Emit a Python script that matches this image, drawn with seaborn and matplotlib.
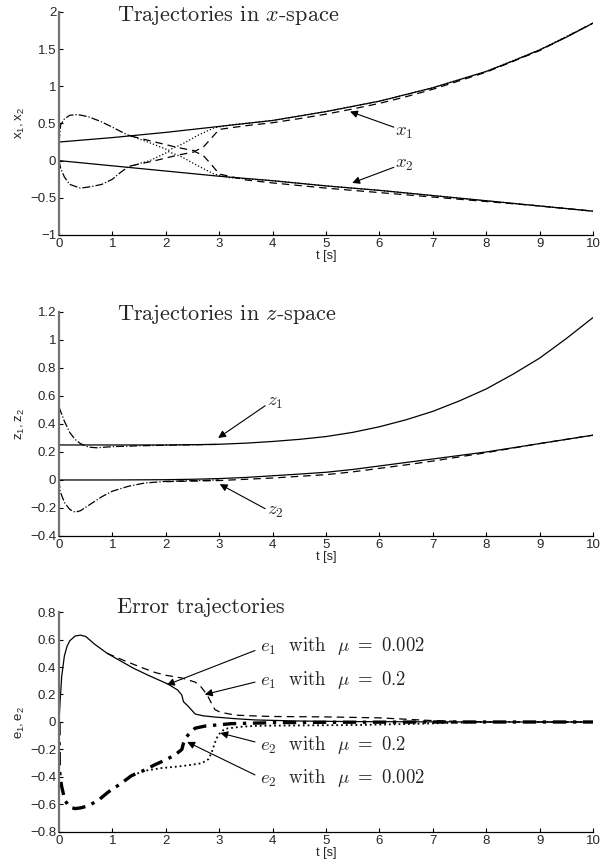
import numpy as np
import pandas as pd
import matplotlib
matplotlib.use("Agg")
import matplotlib.pyplot as plt
import seaborn as sns

# ---------------- data ----------------
# x-space (top)
t_x = [0, 0.5, 1, 1.5, 2, 2.5, 3, 3.5, 4, 4.5, 5, 5.5, 6, 6.5, 7, 7.5, 8, 8.5, 9, 9.5, 10]
x1 = [0.25, 0.28, 0.31, 0.345, 0.38, 0.42, 0.46, 0.50, 0.54, 0.60, 0.66, 0.73, 0.80,
      0.89, 0.98, 1.09, 1.20, 1.34, 1.49, 1.66, 1.85]
x2 = [0.0, -0.035, -0.07, -0.105, -0.14, -0.175, -0.21, -0.24, -0.27, -0.305, -0.34,
      -0.37, -0.40, -0.435, -0.47, -0.505, -0.54, -0.575, -0.61, -0.645, -0.68]

t_x1_init = [0, 0.03, 0.1, 0.2, 0.35, 0.55, 0.77, 1.0, 1.27, 1.35]
x1_init = [0.25, 0.48, 0.56, 0.61, 0.62, 0.59, 0.53, 0.45, 0.35, 0.33]
t_x2_init = [0, 0.03, 0.1, 0.2, 0.4, 0.6, 0.8, 1.0, 1.15, 1.3, 1.35]
x2_init = [0.0, -0.1, -0.22, -0.32, -0.37, -0.35, -0.32, -0.25, -0.16, -0.08, -0.07]

t_xd = [1.35, 1.8, 2.2, 2.55, 2.7, 2.85, 3.0, 3.5, 4, 4.5, 5, 5.5, 6, 6.5, 7, 7.5, 8, 9, 10]
x1_dash = [0.33, 0.25, 0.18, 0.13, 0.18, 0.30, 0.42, 0.47, 0.51, 0.565, 0.625, 0.695,
           0.77, 0.86, 0.96, 1.075, 1.19, 1.48, 1.85]
x2_dash = [-0.07, 0.0, 0.07, 0.12, 0.07, -0.05, -0.18, -0.26, -0.30, -0.335, -0.37,
           -0.40, -0.43, -0.46, -0.49, -0.52, -0.55, -0.61, -0.68]

t_xo = [1.35, 1.7, 2.05, 2.3, 2.6, 2.9, 3.2, 4, 5, 6, 7, 8, 9, 10]
x1_dot = [0.33, 0.24, 0.14, 0.22, 0.34, 0.44, 0.48, 0.54, 0.66, 0.80, 0.98, 1.20, 1.49, 1.85]
x2_dot = [-0.07, 0.0, 0.12, 0.05, -0.07, -0.18, -0.23, -0.27, -0.34, -0.40, -0.47, -0.54, -0.61, -0.68]

# z-space (middle)
t_z = [0, 1, 2, 2.5, 3, 3.5, 4, 4.5, 5, 5.5, 6, 6.5, 7, 7.5, 8, 8.5, 9, 9.5, 10]
z1 = [0.25, 0.25, 0.25, 0.252, 0.255, 0.263, 0.275, 0.29, 0.31, 0.34, 0.38, 0.43,
      0.49, 0.565, 0.65, 0.755, 0.87, 1.01, 1.16]
z2 = [0.0, 0.0, 0.002, 0.005, 0.01, 0.018, 0.03, 0.042, 0.055, 0.075, 0.10, 0.125,
      0.15, 0.175, 0.20, 0.23, 0.26, 0.29, 0.32]

t_z1e = [0, 0.1, 0.2, 0.3, 0.4, 0.55, 0.7, 1.0, 1.5, 2.0, 3.0]
z1_est = [0.52, 0.42, 0.34, 0.29, 0.26, 0.235, 0.23, 0.238, 0.244, 0.248, 0.254]
t_z2e = [0, 0.02, 0.1, 0.2, 0.3, 0.4, 0.6, 0.8, 1.0, 1.3, 1.6, 2.0, 2.5, 3.0]
z2_est = [0.0, -0.08, -0.16, -0.21, -0.23, -0.22, -0.17, -0.12, -0.08, -0.045,
          -0.022, -0.01, -0.005, 0.0]
t_z2d = [2, 3, 4, 4.5, 5, 5.5, 6, 6.5, 7, 8, 9, 10]
z2_dash = [-0.012, -0.004, 0.014, 0.026, 0.038, 0.058, 0.083, 0.108, 0.135, 0.195, 0.26, 0.32]

# error trajectories (bottom)
t_e1a = [0, 0.02, 0.05, 0.1, 0.15, 0.2, 0.3, 0.4, 0.5, 0.67, 0.9, 1.17, 1.4, 1.67,
         2.04, 2.22, 2.3, 2.33, 2.43, 2.55, 2.7, 2.92, 3.3, 3.67, 4.5, 5.5, 7, 10]
e1_mu002 = [0, 0.15, 0.33, 0.48, 0.55, 0.59, 0.625, 0.632, 0.622, 0.565, 0.5, 0.44,
            0.39, 0.34, 0.276, 0.233, 0.196, 0.148, 0.11, 0.058, 0.045, 0.036,
            0.024, 0.015, 0.007, 0.003, 0.001, 0]
t_e1b = [0.9, 1.2, 1.52, 1.8, 2.0, 2.3, 2.55, 2.65, 2.77, 2.85, 2.92, 3.0, 3.1,
         3.3, 3.6, 4, 5, 6, 6.5, 7, 7.5, 8, 10]
e1_mu02 = [0.5, 0.45, 0.40, 0.36, 0.34, 0.32, 0.29, 0.26, 0.20, 0.14, 0.09, 0.075,
           0.065, 0.05, 0.045, 0.04, 0.037, 0.03, 0.02, 0.01, 0.004, 0, 0]
t_e2a = [0, 0.005, 0.02, 0.05, 0.11, 0.2, 0.3, 0.4, 0.55, 0.75, 0.92, 1.15, 1.36,
         1.6, 1.8, 2.0, 2.17, 2.3, 2.33, 2.39, 2.47, 2.55, 2.73, 3.0, 3.23, 4, 5, 7, 10]
e2_mu002 = [0, -0.3, -0.4, -0.47, -0.57, -0.62, -0.63, -0.625, -0.61, -0.565, -0.51,
            -0.45, -0.39, -0.35, -0.31, -0.275, -0.24, -0.2, -0.155, -0.107, -0.07,
            -0.045, -0.03, -0.02, -0.012, -0.005, -0.002, 0, 0]
t_e2b = [1.3, 1.6, 1.92, 2.2, 2.42, 2.67, 2.8, 2.86, 2.92, 2.98, 3.1, 3.4, 3.67,
         4.5, 5.5, 6.5, 7, 7.5, 8, 10]
e2_mu02 = [-0.4, -0.355, -0.335, -0.325, -0.315, -0.3, -0.27, -0.22, -0.15, -0.095,
           -0.05, -0.035, -0.028, -0.025, -0.022, -0.015, -0.01, -0.005, 0, 0]

x_ticks = [0, 1, 2, 3, 4, 5, 6, 7, 8, 9, 10]
y_ticks_top = [-1, -0.5, 0, 0.5, 1, 1.5, 2]
y_ticks_mid = [-0.4, -0.2, 0, 0.2, 0.4, 0.6, 0.8, 1, 1.2]
y_ticks_bot = [-0.8, -0.6, -0.4, -0.2, 0, 0.2, 0.4, 0.6, 0.8]

# ---------------- style ----------------
sns.set_style("ticks")
plt.rcParams["font.family"] = ["Liberation Sans", "DejaVu Sans"]
plt.rcParams["mathtext.fontset"] = "cm"
plt.rcParams["xtick.direction"] = "in"
plt.rcParams["ytick.direction"] = "in"
plt.rcParams["xtick.major.size"] = 3
plt.rcParams["ytick.major.size"] = 3
plt.rcParams["xtick.labelsize"] = 9.5
plt.rcParams["ytick.labelsize"] = 9.5

fig = plt.figure(figsize=(6.01, 8.67), dpi=100)
ax1 = fig.add_axes([0.0982, 0.729, 0.8885, 0.2572])
ax2 = fig.add_axes([0.0982, 0.3818, 0.8885, 0.2584])
ax3 = fig.add_axes([0.0982, 0.0404, 0.8885, 0.2537])


def line(ax, t, y, ls="-", lw=0.9):
    df = pd.DataFrame({"t": t, "y": y})
    sns.lineplot(data=df, x="t", y="y", ax=ax, color="k", linestyle=ls,
                 linewidth=lw, estimator=None, sort=False)


def arrow(ax, tail, tip):
    ax.annotate("", xy=tip, xytext=tail,
                arrowprops=dict(arrowstyle="-|>", color="k", lw=0.8,
                                mutation_scale=11, shrinkA=0, shrinkB=0))


ttl_kw = dict(fontsize=16, ha="left", va="center", clip_on=False, family="cmr10")
ann_kw = dict(fontsize=13.5, ha="left", va="center", family="cmr10")

# top
line(ax1, t_x, x1)
line(ax1, t_x, x2)
line(ax1, t_x1_init, x1_init, ls="-.")
line(ax1, t_x2_init, x2_init, ls="-.")
line(ax1, t_xd, x1_dash, ls=(0, (6, 4)))
line(ax1, t_xd, x2_dash, ls=(0, (6, 4)))
line(ax1, t_xo, x1_dot, ls=":")
line(ax1, t_xo, x2_dot, ls=":")
ax1.text(1.09, 1.95, "Trajectories in $x$-space", **ttl_kw)
ax1.text(6.3, 0.39, r"$x_1$", **ann_kw)
ax1.text(6.3, -0.05, r"$x_2$", **ann_kw)
arrow(ax1, (6.27, 0.45), (5.45, 0.66))
arrow(ax1, (6.27, -0.09), (5.49, -0.30))
ax1.set_ylim(-1, 2)
ax1.set_yticks(y_ticks_top)
ax1.set_yticklabels(["\u22121", "\u22120.5", "0", "0.5", "1", "1.5", "2"])
ax1.set_ylabel(r"$\mathregular{x_1, x_2}$", fontsize=9.5, labelpad=2)

# middle
line(ax2, t_z, z1)
line(ax2, t_z, z2)
line(ax2, t_z1e, z1_est, ls="-.")
line(ax2, t_z2e, z2_est, ls="-.")
line(ax2, t_z2d, z2_dash, ls=(0, (6, 4)))
ax2.text(1.09, 1.185, "Trajectories in $z$-space", **ttl_kw)
ax2.text(3.9, 0.555, r"$z_1$", **ann_kw)
ax2.text(3.9, -0.22, r"$z_2$", **ann_kw)
arrow(ax2, (3.86, 0.53), (2.98, 0.30))
arrow(ax2, (3.86, -0.205), (3.01, -0.03))
ax2.set_ylim(-0.4, 1.2)
ax2.set_yticks(y_ticks_mid)
ax2.set_yticklabels(["\u22120.4", "\u22120.2", "0", "0.2", "0.4", "0.6", "0.8", "1", "1.2"])
ax2.set_ylabel(r"$\mathregular{z_1, z_2}$", fontsize=9.5, labelpad=2)

# bottom
line(ax3, t_e1a, e1_mu002)
line(ax3, t_e1b, e1_mu02, ls=(0, (6, 4)))
line(ax3, t_e2b, e2_mu02, ls=":", lw=1.3)
line(ax3, t_e2a, e2_mu002, ls=(0, (4, 2, 1, 2)), lw=2.4)
ax3.text(1.09, 0.835, "Error trajectories", **ttl_kw)
ax3.text(3.76, 0.55, r"$e_1$  with  $\mu\ =\ 0.002$", **ann_kw)
ax3.text(3.76, 0.305, r"$e_1$  with  $\mu\ =\ 0.2$", **ann_kw)
ax3.text(3.76, -0.17, r"$e_2$  with  $\mu\ =\ 0.2$", **ann_kw)
ax3.text(3.76, -0.41, r"$e_2$  with  $\mu\ =\ 0.002$", **ann_kw)
arrow(ax3, (3.67, 0.52), (2.02, 0.27))
arrow(ax3, (3.67, 0.29), (2.73, 0.20))
arrow(ax3, (3.67, -0.145), (3.02, -0.08))
arrow(ax3, (3.67, -0.385), (2.40, -0.145))
ax3.set_ylim(-0.8, 0.8)
ax3.set_yticks(y_ticks_bot)
ax3.set_yticklabels(["\u22120.8", "\u22120.6", "\u22120.4", "\u22120.2", "0", "0.2", "0.4", "0.6", "0.8"])
ax3.set_ylabel(r"$\mathregular{e_1, e_2}$", fontsize=9.5, labelpad=2)

for ax in (ax1, ax2, ax3):
    ax.set_xlim(0, 10)
    ax.set_xticks(x_ticks)
    ax.set_xticklabels([str(v) for v in x_ticks])
    ax.set_xlabel("t [s]", fontsize=9, labelpad=0)
    ax.spines["top"].set_visible(False)
    ax.spines["right"].set_visible(False)
    ax.spines["left"].set_color("0.45")
    ax.spines["left"].set_linewidth(1.6)
    ax.spines["bottom"].set_color("k")
    ax.spines["bottom"].set_linewidth(0.9)
    ax.tick_params(axis="both", which="major", pad=2, width=0.8, color="k")

fig.savefig("out.png", dpi=100)
